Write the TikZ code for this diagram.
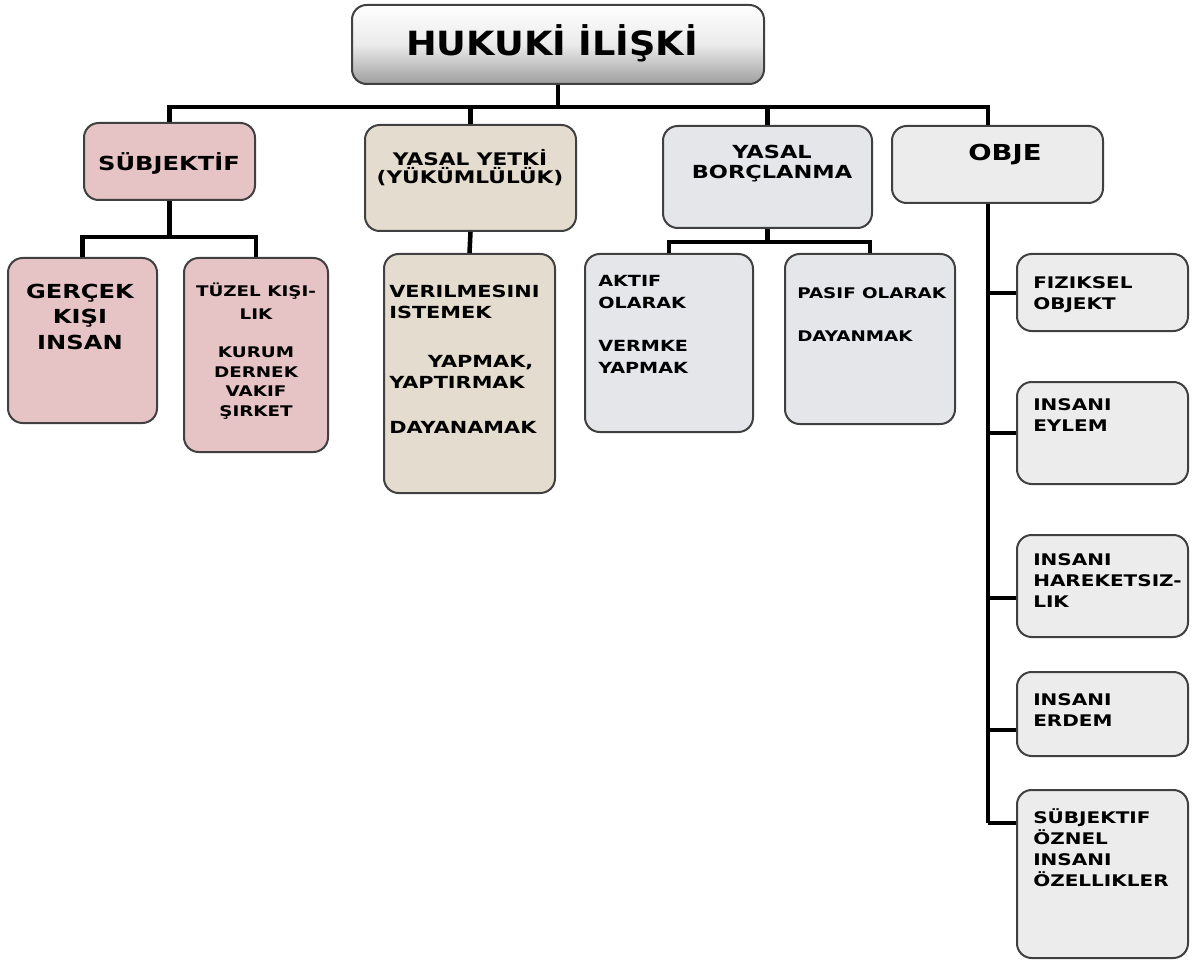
\documentclass[tikz,border=0pt]{standalone}
\usepackage{fontspec}
\newfontfamily\wf[FakeStretch=1.25]{DejaVu Sans}
\newfontfamily\tf[FakeStretch=1.1]{DejaVu Sans}
\usetikzlibrary{fit}
\newcommand\myfs[2]{\fontsize{#1}{#2}\selectfont}
\definecolor{pinkc}{HTML}{E6C3C5}
\definecolor{beigec}{HTML}{E4DCCE}
\definecolor{marblec}{HTML}{E5E6EA}
\definecolor{specc}{HTML}{ECECEC}
\definecolor{edgec}{HTML}{404040}
\tikzset{
  box/.style={draw=edgec, line width=1.5pt, rounded corners=11pt, inner sep=0pt},
  conn/.style={draw=black, line width=3.4pt, line join=miter},
  txt/.style={inner sep=0pt, align=left, anchor=north west, text=black, execute at begin node=\vphantom{Ö}},
}
\begin{document}
\begin{tikzpicture}[x=0.75pt,y=-0.75pt]
\useasboundingbox[fill=white] (0,0) rectangle (1197,963);
% boxes
\node[box, top color=white, bottom color=black!38, middle color=black!8, fit={(352,5) (764,84)}] (top) {};
\node[box, fill=pinkc, fit={(84,123) (255,200)}] (subj) {};
\node[box, fill=beigec, fit={(365,125) (576,231)}] (yetki) {};
\node[box, fill=marblec, fit={(663,126) (872,228)}] (borc) {};
\node[box, fill=specc, fit={(892,126) (1103,203)}] (obje) {};
\node[box, fill=pinkc, fit={(8,258) (157,423)}] (gercek) {};
\node[box, fill=pinkc, fit={(184,258) (328,452)}] (tuzel) {};
\node[box, fill=beigec, fit={(384,254) (555,493)}] (ysub) {};
\node[box, fill=marblec, fit={(585,254) (753,432)}] (aktif) {};
\node[box, fill=marblec, fit={(785,254) (955,424)}] (pasif) {};
\node[box, fill=specc, fit={(1017,254) (1188,331)}] (fiz) {};
\node[box, fill=specc, fit={(1017,382) (1188,484)}] (eylem) {};
\node[box, fill=specc, fit={(1017,535) (1188,637)}] (hrk) {};
\node[box, fill=specc, fit={(1017,672) (1188,756)}] (erdem) {};
\node[box, fill=specc, fit={(1017,790) (1188,958)}] (ozel) {};
% texts
\node[txt, anchor=north, align=center, font=\tf\bfseries\myfs{25pt}{30pt}] (ttop) at (552,24) {HUKUKİ İLİŞKİ};
\node[txt, anchor=north, align=center, font=\wf\bfseries\myfs{14.5pt}{17pt}] (tsubj) at (169,152) {SÜBJEKTİF};
\node[txt, anchor=north, align=center, font=\wf\bfseries\myfs{13pt}{12pt}] (tyetki) at (470,149.5) {YASAL YETKİ\\(YÜKÜMLÜLÜK)};
\node[txt, anchor=north, align=center, font=\wf\bfseries\myfs{13.5pt}{15pt}] (tborc) at (772,144.5) {YASAL\\BORÇLANMA};
\node[txt, anchor=north, align=center, font=\wf\bfseries\myfs{16.5pt}{18pt}] (tobje) at (1005,140) {OBJE};
\node[txt, anchor=north, align=center, font=\wf\bfseries\myfs{14.5pt}{19pt}] (tgercek) at (80,284) {GERÇEK\\KIŞI\\INSAN};
\node[txt, anchor=north, align=center, font=\wf\bfseries\myfs{11pt}{14.6pt}] (ttuzel) at (256,283) {TÜZEL KIŞI-\\[2pt]LIK\\[14.5pt]KURUM\\DERNEK\\VAKIF\\ŞIRKET};
\node[txt, font=\wf\bfseries\myfs{12.5pt}{15.75pt}] (tysub) at (389,285) {VERILMESINI\\ISTEMEK\\[21pt]\hspace*{29pt}YAPMAK,\\YAPTIRMAK\\[18pt]DAYANAMAK};
\node[txt, font=\wf\bfseries\myfs{11.5pt}{16.5pt}] (taktif) at (598,275.5) {AKTIF\\OLARAK\\[15.75pt]VERMKE\\YAPMAK};
\node[txt, font=\wf\bfseries\myfs{11pt}{16.5pt}] (tpasif) at (797,287) {PASIF OLARAK\\[15.75pt]DAYANMAK};
\node[txt, font=\wf\bfseries\myfs{12pt}{15.75pt}] (tfiz) at (1033,276) {FIZIKSEL\\OBJEKT};
\node[txt, font=\wf\bfseries\myfs{12pt}{15.75pt}] (teylem) at (1033,398) {INSANI\\EYLEM};
\node[txt, font=\wf\bfseries\myfs{12pt}{15.75pt}] (thrk) at (1033,553) {INSANI\\HAREKETSIZ-\\LIK};
\node[txt, font=\wf\bfseries\myfs{12pt}{15.75pt}] (terdem) at (1033,693) {INSANI\\ERDEM};
\node[txt, font=\wf\bfseries\myfs{12pt}{15.75pt}] (tozel) at (1033,808) {SÜBJEKTIF\\ÖZNEL\\INSANI\\ÖZELLIKLER};
% connector coordinates
\coordinate (bus) at (0,107);
\coordinate (sbar) at (0,237);
\coordinate (bbar) at (0,242);
\coordinate (spine) at (988,0);
\coordinate (b1) at (988,293);
\coordinate (b2) at (988,433);
\coordinate (b3) at (988,598);
\coordinate (b4) at (988,730);
\coordinate (b5) at (988,823);
% connectors
\draw[conn] (top.south) -- (top.south |- bus);
\draw[conn] (subj.north) |- (spine |- bus) -- (spine |- obje.north);
\draw[conn] (yetki.north) -- (yetki.north |- bus);
\draw[conn] (borc.north) -- (borc.north |- bus);
\draw[conn] (subj.south) -- (subj.south |- sbar);
\draw[conn] (gercek.north) |- (tuzel.north |- sbar) -- (tuzel.north);
\draw[conn] (yetki.south) -- (ysub.north);
\draw[conn] (borc.south) -- (borc.south |- bbar);
\draw[conn] (aktif.north) |- (pasif.north |- bbar) -- (pasif.north);
\draw[conn] (spine |- obje.south) -- (b5);
\draw[conn] (b1) -- (fiz.west |- b1);
\draw[conn] (b2) -- (eylem.west |- b2);
\draw[conn] (b3) -- (hrk.west |- b3);
\draw[conn] (b4) -- (erdem.west |- b4);
\draw[conn] (b5) -- (ozel.west |- b5);
\end{tikzpicture}
\end{document}
